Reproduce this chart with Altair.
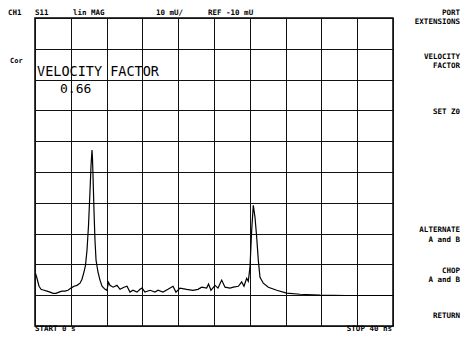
import altair as alt
import pandas as pd

# ---- data (time in ns, magnitude in mU) ----
time_ns = [0.06, 0.22, 0.45, 0.67, 1.01, 1.34, 1.68, 2.01, 2.35, 2.68, 3.02, 3.35, 3.69, 4.02,
           4.36, 4.69, 5.03, 5.25, 5.47, 5.64, 5.81, 5.98, 6.15, 6.26, 6.37, 6.42, 6.48, 6.59,
           6.70, 6.82, 6.93, 7.04, 7.26, 7.49, 7.82, 8.04, 8.21, 8.38, 8.72, 9.16, 9.50, 9.94,
           10.28, 10.61, 10.95, 11.40, 11.73, 11.96, 12.29, 12.85, 13.41, 13.74, 14.30, 14.86,
           15.42, 15.75, 16.20, 16.95, 17.65, 18.21, 18.63, 19.18, 19.39, 19.66, 20.11, 20.45,
           20.86, 21.23, 21.79, 22.16, 22.72, 23.09, 23.35, 23.65, 23.83, 24.02, 24.21, 24.39,
           24.58, 24.77, 24.95, 25.14, 25.51, 26.07, 27.01, 28.12, 29.61, 31.84, 34.83, 37.40,
           40.00]
mag_mU = [7.1, 5.5, 2.9, 1.9, 1.6, 1.3, 1.0, 0.6, 0.6, 1.0, 1.3, 1.3, 1.6, 2.3,
          2.9, 3.2, 3.9, 5.2, 7.5, 9.7, 14.6, 22.7, 34.1, 42.2, 47.1, 44.5, 39.0, 27.6,
          17.9, 11.4, 9.4, 7.5, 4.9, 2.9, 1.9, 1.6, 4.2, 3.2, 2.6, 3.2, 1.9, 2.6,
          2.9, 1.0, 1.6, 1.0, 1.9, 2.3, 1.0, 1.6, 1.0, 1.6, 1.0, 1.9,
          2.9, 1.0, 2.3, 1.9, 1.6, 1.9, 2.6, 2.3, 3.6, 1.6, 3.2, 2.3,
          4.9, 2.6, 2.3, 2.6, 2.9, 4.3, 2.9, 5.5, 4.5, 9.1, 21.1, 29.2,
          25.3, 18.8, 11.4, 5.8, 3.9, 2.6, 1.6, 0.7, 0.3, 0.0, -0.1, -0.1,
          -0.1]

x_ticks = [0, 4, 8, 12, 16, 20, 24, 28, 32, 36, 40]
y_ticks = [-10, 0, 10, 20, 30, 40, 50, 60, 70, 80, 90]

header_texts = ["CH1", "S11", "lin MAG", "10 mU/", "REF -10 mU"]
softkey_texts = ["PORT", "EXTENSIONS", "VELOCITY", "FACTOR", "SET Z0",
                 "ALTERNATE", "A and B", "CHOP", "A and B", "RETURN"]
marker_title = "VELOCITY FACTOR"
marker_value = "0.66"
cor_text = "Cor"
start_text = "START 0 s"
stop_text = "STOP 40 ns"

W, H = 358, 308
FONT = "DejaVu Sans Mono"

df = pd.DataFrame({"t": time_ns, "v": mag_mU})

trace = alt.Chart(df).mark_line(color="black", strokeWidth=1.2).encode(
    x=alt.X("t:Q", scale=alt.Scale(domain=[0, 40], nice=False, zero=False),
            axis=alt.Axis(values=x_ticks, grid=True, labels=False, ticks=False,
                          domain=False, title=None, gridColor="#111111",
                          gridWidth=1, gridOpacity=1)),
    y=alt.Y("v:Q", scale=alt.Scale(domain=[-10, 90], nice=False, zero=False),
            axis=alt.Axis(values=y_ticks, grid=True, labels=False, ticks=False,
                          domain=False, title=None, gridColor="#111111",
                          gridWidth=1, gridOpacity=1)),
)


def label(text, x, y, size=7.5, align="left", weight="bold", baseline="middle"):
    return alt.Chart(pd.DataFrame({"s": [text]})).mark_text(
        font=FONT, fontSize=size, fontWeight=weight, align=align,
        baseline=baseline, color="black"
    ).encode(x=alt.value(x), y=alt.value(y), text="s:N")


layers = [trace]
# header (plot-relative coordinates; plot origin at page (35, 18))
header_x = [-27, 0, 38, 121, 173]
for txt, hx in zip(header_texts, header_x):
    layers.append(label(txt, hx, -9.5, baseline="top"))

softkey_y = [-5, 4, 39, 48, 94, 212, 222, 253, 262, 298]
for txt, sy in zip(softkey_texts, softkey_y):
    layers.append(label(txt, 425, sy, align="right"))

layers.append(label(cor_text, -25, 43, size=7))
layers.append(label(marker_title, 2, 54, size=13.5, weight="normal"))
layers.append(label(marker_value, 25, 71, size=13, weight="normal"))
layers.append(label(start_text, 0, 315, baseline="bottom"))
layers.append(label(stop_text, 357, 315, align="right", baseline="bottom"))

chart = alt.layer(*layers).properties(
    width=W, height=H,
    padding={"left": 27, "top": 10, "right": 68, "bottom": 7},
    autosize=alt.AutoSizeParams(type="none"),
    background="white",
).configure_view(stroke="black", strokeWidth=1.5)

chart.save("out.html", embed_options={"renderer": "svg", "actions": False})
